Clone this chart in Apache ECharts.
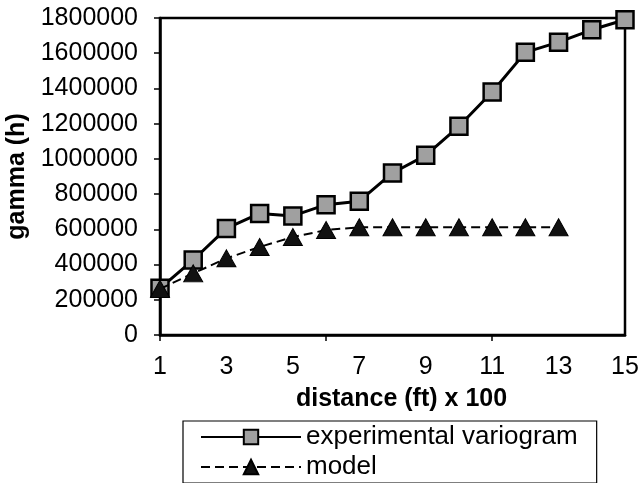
<!DOCTYPE html>
<html>
<head>
<meta charset="utf-8">
<script src="https://cdn.jsdelivr.net/npm/echarts@6/dist/echarts.min.js"></script>
<style>html,body{margin:0;padding:0;background:#fff}#c{width:642px;height:483px}</style>
</head>
<body>
<div id="c"></div>
<script>
const distances = ['1','2','3','4','5','6','7','8','9','10','11','12','13','14','15'];
const experimental = [265000, 426000, 605000, 690000, 676000, 740000, 760000, 920000, 1020000, 1185000, 1380000, 1605000, 1663000, 1733000, 1790000];
const model = [262000, 350000, 435000, 500000, 556000, 596000, 612000, 612000, 612000, 612000, 612000, 612000, 612000, null, null];
const yMin = 0, yMax = 1800000, yStep = 200000;

const font = '"Liberation Sans", Arial, sans-serif';
const chart = echarts.init(document.getElementById('c'), null, {renderer: 'canvas'});
chart.setOption({
  backgroundColor: '#fff',
  animation: false,
  grid: {left: 160, top: 18, right: 17, bottom: 148, containLabel: false, outerBoundsMode: 'none',
         show: true, borderColor: '#000', borderWidth: 2.5, backgroundColor: 'transparent'},
  xAxis: {
    type: 'category', data: distances, boundaryGap: false,
    axisLine: {lineStyle: {color: '#000', width: 2.5}},
    axisTick: {show: true, interval: 4, length: 6, lineStyle: {color: '#000', width: 1.5}},
    axisLabel: {interval: 1, color: '#000', fontFamily: font, fontSize: 25, margin: 20},
    name: 'distance (ft) x 100', nameLocation: 'middle', nameGap: 52,
    nameTextStyle: {color: '#000', fontFamily: font, fontSize: 25, fontWeight: 'bold', padding: [0, 0, 0, 18]},
    splitLine: {show: false}
  },
  yAxis: {
    type: 'value', min: yMin, max: yMax, interval: yStep,
    axisLine: {show: true, lineStyle: {color: '#000', width: 2.5}},
    axisTick: {show: true, length: 6, lineStyle: {color: '#000', width: 1.5}},
    axisLabel: {color: '#000', fontFamily: font, fontSize: 25, margin: 22, formatter: function (v) { return String(v); }},
    splitLine: {show: false},
    name: 'gamma (h)', nameLocation: 'middle', nameGap: 124, nameRotate: 90,
    nameTextStyle: {color: '#000', fontFamily: font, fontSize: 25, fontWeight: 'bold'}
  },
  legend: {
    orient: 'vertical', left: 183, top: 421,
    borderColor: '#000', borderWidth: 1.2, padding: [3, 19, 3, 17],
    itemWidth: 100, itemHeight: 18, itemGap: 4,
    textStyle: {color: '#000', fontFamily: font, fontSize: 26, lineHeight: 26},
    data: ['experimental variogram', 'model']
  },
  series: [
    {
      name: 'experimental variogram', type: 'line', data: experimental,
      symbol: 'rect', symbolSize: 17,
      lineStyle: {color: '#000', width: 3},
      itemStyle: {color: '#a0a0a0', borderColor: '#000', borderWidth: 2.5},
      z: 3
    },
    {
      name: 'model', type: 'line', data: model, connectNulls: false,
      symbol: 'triangle', symbolSize: [19, 17],
      lineStyle: {color: '#000', width: 2, type: [9, 5]},
      itemStyle: {color: '#111', borderColor: '#000', borderWidth: 1},
      z: 4
    }
  ]
});
</script>
</body>
</html>
